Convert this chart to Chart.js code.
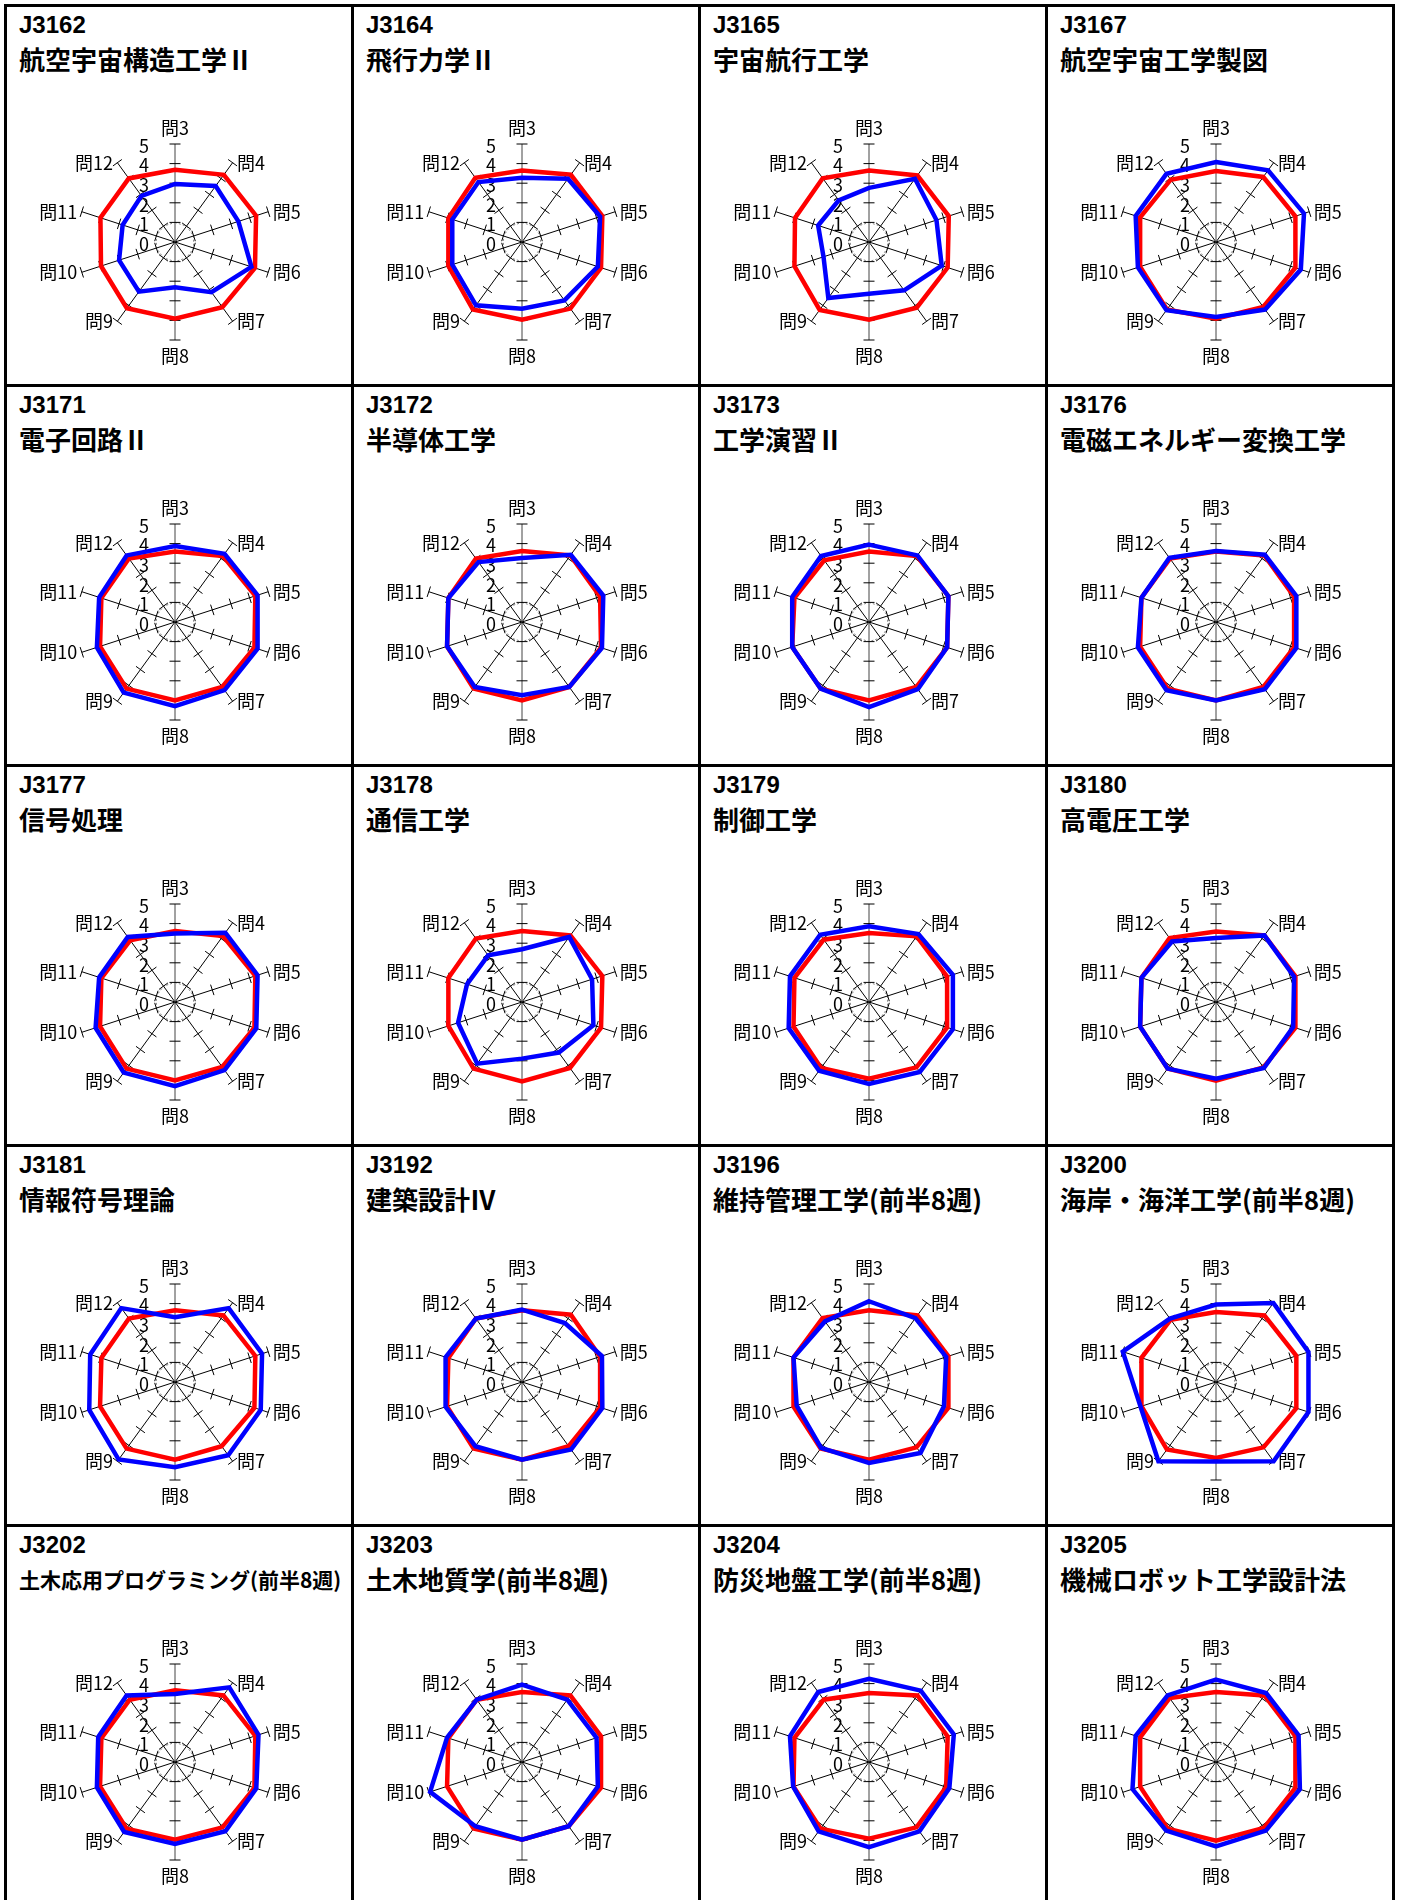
<!DOCTYPE html>
<html lang="ja">
<head>
  <meta charset="UTF-8">
  <title>授業評価 レーダーチャート</title>
  <script src="https://cdn.jsdelivr.net/npm/chart.js"></script>
  <style>
    body {
      margin: 0;
      background: #fff;
      width: 1401px;
      height: 1900px;
      overflow: hidden;
      position: relative;
    }

    /* one framed box per course, borders overlap with the neighbours */
    .cell {
      position: absolute;
      width: 350px;
      height: 383px;
      border: 3px solid #000;
      box-sizing: border-box;
    }

    .code {
      position: absolute;
      left: 12px;
      top: 6px;
      font: bold 24px/24px "Liberation Sans", "Noto Sans CJK JP", sans-serif;
    }

    .name {
      position: absolute;
      left: 12px;
      top: 37px;
      font-family: "Noto Sans CJK JP", sans-serif;
      font-weight: bold;
      font-size: 26px;
      line-height: 30px;
      white-space: nowrap;
    }

    .cell canvas {
      position: absolute;
      left: 0;
      top: 100px;
    }
  </style>
</head>
<body>

  <script>
    // axes, clockwise from the top
    const axisLabels = ['問3', '問4', '問5', '問6', '問7', '問8', '問9', '問10', '問11', '問12'];
    const tickValues = [0, 1, 2, 3, 4, 5];

    const courseCodes = [
      'J3162', 'J3164', 'J3165', 'J3167',
      'J3171', 'J3172', 'J3173', 'J3176',
      'J3177', 'J3178', 'J3179', 'J3180',
      'J3181', 'J3192', 'J3196', 'J3200',
      'J3202', 'J3203', 'J3204', 'J3205'
    ];

    const courseNames = [
      '航空宇宙構造工学Ⅱ', '飛行力学Ⅱ', '宇宙航行工学', '航空宇宙工学製図',
      '電子回路Ⅱ', '半導体工学', '工学演習Ⅱ', '電磁エネルギー変換工学',
      '信号処理', '通信工学', '制御工学', '高電圧工学',
      '情報符号理論', '建築設計Ⅳ', '維持管理工学(前半8週)', '海岸・海洋工学(前半8週)',
      '土木応用プログラミング(前半8週)', '土木地質学(前半8週)', '防災地盤工学(前半8週)', '機械ロボット工学設計法'
    ];

    // red polygon (one row per course, 問3..問12)
    const redValues = [
      [3.69, 4.24, 4.35, 4.29, 4.11, 3.91, 4.18, 3.97, 4.00, 4.01],
      [3.65, 4.24, 4.31, 4.24, 4.20, 3.96, 4.26, 3.95, 3.95, 4.05],
      [3.65, 4.20, 4.28, 4.22, 4.14, 3.96, 4.28, 4.00, 3.97, 4.02],
      [3.62, 4.10, 4.26, 4.26, 4.10, 3.91, 4.26, 4.07, 4.07, 3.93],
      [3.60, 4.16, 4.31, 4.26, 4.10, 4.00, 4.20, 4.02, 3.95, 4.00],
      [3.62, 4.20, 4.19, 4.24, 4.10, 4.00, 4.20, 4.02, 3.95, 4.00],
      [3.60, 4.16, 4.26, 4.19, 4.10, 4.00, 4.20, 4.12, 4.00, 3.89],
      [3.60, 4.20, 4.19, 4.19, 4.10, 4.00, 4.20, 4.07, 4.00, 4.00],
      [3.62, 4.16, 4.31, 4.26, 4.10, 4.00, 4.20, 4.02, 3.95, 3.89],
      [3.62, 4.20, 4.31, 4.24, 4.16, 4.05, 4.20, 3.95, 3.95, 4.00],
      [3.52, 4.14, 4.19, 4.19, 4.12, 3.91, 4.16, 4.05, 4.00, 3.93],
      [3.60, 4.20, 4.26, 4.26, 4.12, 4.01, 4.20, 4.07, 4.00, 4.03],
      [3.66, 4.20, 4.31, 4.26, 4.05, 3.96, 4.20, 4.02, 3.95, 4.00],
      [3.66, 4.24, 4.19, 4.19, 4.05, 3.96, 4.20, 4.02, 3.95, 4.00],
      [3.66, 4.20, 4.26, 4.26, 4.12, 3.96, 4.20, 4.05, 4.05, 4.03],
      [3.57, 4.20, 4.31, 4.31, 4.12, 3.88, 4.26, 4.00, 4.00, 3.93],
      [3.66, 4.20, 4.31, 4.26, 4.12, 3.96, 4.20, 4.02, 3.95, 3.93],
      [3.57, 4.20, 4.24, 4.24, 4.05, 3.96, 4.20, 4.02, 3.95, 3.93],
      [3.52, 4.20, 4.22, 4.14, 4.12, 3.91, 4.20, 4.05, 4.00, 3.93],
      [3.57, 4.20, 4.26, 4.26, 4.16, 4.01, 4.20, 4.07, 4.07, 4.03]
    ];

    // blue polygon
    const blueValues = [
      [2.96, 3.53, 3.40, 4.10, 3.17, 2.31, 3.13, 3.00, 2.81, 2.91],
      [3.28, 3.99, 4.19, 4.07, 3.68, 3.40, 3.99, 3.74, 3.74, 3.78],
      [2.76, 3.99, 3.62, 3.90, 3.05, 2.64, 3.53, 2.44, 2.73, 2.63],
      [4.08, 4.52, 4.72, 4.55, 4.26, 3.83, 4.30, 4.19, 4.31, 4.30],
      [3.88, 4.30, 4.43, 4.43, 4.30, 4.29, 4.45, 4.19, 4.07, 4.20],
      [3.27, 4.24, 4.36, 4.29, 4.10, 3.74, 4.10, 4.02, 3.95, 3.78],
      [3.95, 4.20, 4.26, 4.19, 4.24, 4.34, 4.20, 4.12, 4.12, 4.16],
      [3.62, 4.24, 4.31, 4.31, 4.24, 4.00, 4.30, 4.19, 4.00, 4.05],
      [3.49, 4.37, 4.43, 4.36, 4.30, 4.29, 4.45, 4.26, 4.07, 4.10],
      [2.69, 4.10, 3.76, 3.83, 3.19, 2.89, 3.89, 3.43, 2.95, 2.94],
      [3.86, 4.29, 4.50, 4.50, 4.41, 4.18, 4.33, 4.31, 4.24, 4.24],
      [3.27, 4.20, 4.19, 4.14, 4.16, 3.91, 4.20, 4.07, 4.00, 3.82],
      [3.30, 4.66, 4.67, 4.60, 4.62, 4.35, 4.89, 4.60, 4.55, 4.66],
      [3.69, 3.72, 4.29, 4.31, 4.26, 3.96, 4.05, 4.10, 4.10, 4.00],
      [4.12, 4.03, 4.14, 4.02, 4.47, 4.13, 4.16, 3.88, 4.05, 3.82],
      [3.95, 4.98, 4.96, 4.96, 5.00, 4.05, 5.00, 4.05, 5.00, 4.00],
      [3.47, 4.71, 4.48, 4.36, 4.37, 4.18, 4.41, 4.19, 4.12, 4.20],
      [3.95, 3.93, 4.00, 4.07, 4.05, 3.96, 4.05, 4.93, 4.02, 3.93],
      [4.25, 4.50, 4.55, 4.31, 4.37, 4.35, 4.37, 4.07, 4.24, 4.41],
      [4.20, 4.35, 4.43, 4.50, 4.33, 4.30, 4.33, 4.48, 4.31, 4.20]
    ];

    const COLS = 4;
    const CELL_W = 347;
    const CELL_H = 380;

    // dashed ring at 1, tick marks on every spoke, scale numbers and axis names
    const radarDecor = {
      id: 'radarDecor',
      beforeDatasetsDraw(chart) {
        const r = chart.scales.r;
        const ctx = chart.ctx;
        const n = axisLabels.length;
        ctx.save();

        // small dashed polygon at value 1
        const d1 = r.getDistanceFromCenterForValue(1);
        ctx.strokeStyle = '#7f7f7f';
        ctx.lineWidth = 1;
        ctx.setLineDash([2, 2]);
        ctx.beginPath();
        for (let i = 0; i < n; i++) {
          const p = r.getPointPosition(i, d1);
          if (i === 0) ctx.moveTo(p.x, p.y); else ctx.lineTo(p.x, p.y);
        }
        ctx.closePath();
        ctx.stroke();
        ctx.setLineDash([]);

        // cross ticks
        ctx.strokeStyle = '#000';
        ctx.beginPath();
        for (let i = 0; i < n; i++) {
          tickValues.forEach(v => {
            if (v === 0) return;
            const p = r.getPointPosition(i, r.getDistanceFromCenterForValue(v));
            const nx = -Math.sin(p.angle) * 5.5;
            const ny = Math.cos(p.angle) * 5.5;
            ctx.moveTo(p.x - nx, p.y - ny);
            ctx.lineTo(p.x + nx, p.y + ny);
          });
        }
        ctx.stroke();

        // scale numbers, left of the top axis
        ctx.fillStyle = '#000';
        ctx.font = '18px "Noto Sans CJK JP", sans-serif';
        ctx.textAlign = 'center';
        ctx.textBaseline = 'middle';
        tickValues.forEach(v => {
          const y = r.yCenter - r.getDistanceFromCenterForValue(v);
          ctx.fillText(String(v), r.xCenter - 31, y + 2);
        });

        // axis names
        ctx.font = '18px "Noto Sans CJK JP", sans-serif';
        const outer = r.getDistanceFromCenterForValue(5);
        for (let i = 0; i < n; i++) {
          const p = r.getPointPosition(i, outer);
          if (i === 0) {
            ctx.textAlign = 'center';
            ctx.fillText(axisLabels[i], p.x, p.y - 16);
          } else if (i === n / 2) {
            ctx.textAlign = 'center';
            ctx.fillText(axisLabels[i], p.x, p.y + 16);
          } else if (i < n / 2) {
            ctx.textAlign = 'left';
            ctx.fillText(axisLabels[i], p.x + 4.5, p.y);
          } else {
            ctx.textAlign = 'right';
            ctx.fillText(axisLabels[i], p.x - 4.5, p.y);
          }
        }
        ctx.restore();
      }
    };

    courseCodes.forEach((code, k) => {
      const row = Math.floor(k / COLS);
      const col = k % COLS;

      const cell = document.createElement('div');
      cell.className = 'cell';
      cell.style.left = (4 + CELL_W * col) + 'px';
      cell.style.top = (4 + CELL_H * row) + 'px';

      const codeEl = document.createElement('div');
      codeEl.className = 'code';
      codeEl.textContent = code;
      cell.appendChild(codeEl);

      const nameEl = document.createElement('div');
      nameEl.className = 'name';
      nameEl.textContent = courseNames[k];
      cell.appendChild(nameEl);

      const canvas = document.createElement('canvas');
      canvas.width = 344;
      canvas.height = 270;
      cell.appendChild(canvas);
      document.body.appendChild(cell);

      // long names get a smaller font so they stay inside the box
      let size = 26;
      while (nameEl.scrollWidth > 326 && size > 14) {
        size--;
        nameEl.style.fontSize = size + 'px';
      }

      new Chart(canvas, {
        type: 'radar',
        data: {
          labels: axisLabels,
          datasets: [
            {
              data: blueValues[k],
              borderColor: '#0000ff',
              borderWidth: 4.5,
              borderJoinStyle: 'miter',
              pointRadius: 0,
              fill: false
            },
            {
              data: redValues[k],
              borderColor: '#ff0000',
              borderWidth: 4.5,
              borderJoinStyle: 'miter',
              pointRadius: 0,
              fill: false
            }
          ]
        },
        options: {
          responsive: false,
          animation: false,
          layout: {
            padding: { left: 70, right: 78, top: 37, bottom: 37 }
          },
          elements: {
            line: { tension: 0 }
          },
          plugins: {
            legend: { display: false },
            tooltip: { enabled: false }
          },
          scales: {
            r: {
              min: 0,
              max: 5,
              ticks: { display: false, stepSize: 1 },
              grid: { display: false },
              angleLines: {
                display: true,
                color: (c) => (c.index === 0 || c.index === 5) ? '#444' : '#000',
                lineWidth: 1
              },
              pointLabels: { display: false }
            }
          }
        },
        plugins: [radarDecor]
      });
    });
  </script>
</body>
</html>
